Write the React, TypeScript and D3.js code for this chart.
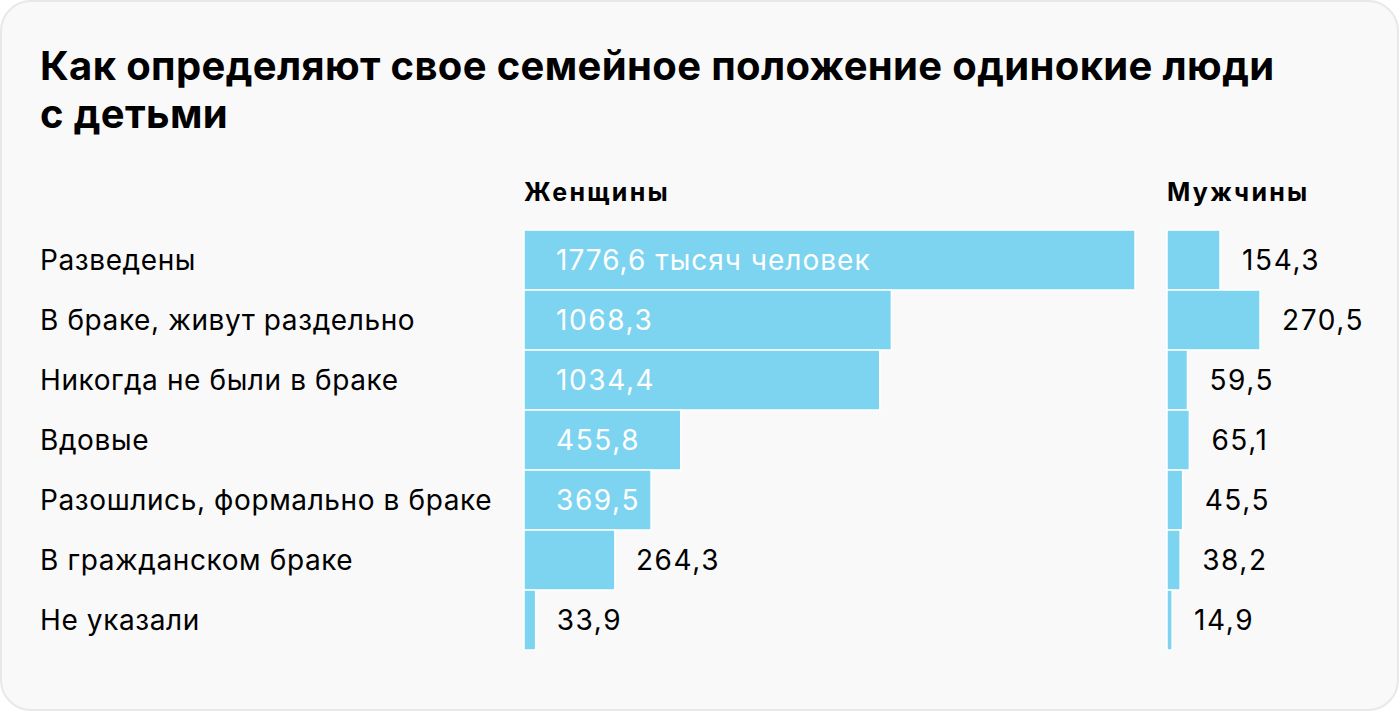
import React from "react";
import * as d3 from "d3";

const categories = [
  "Разведены",
  "В браке, живут раздельно",
  "Никогда не были в браке",
  "Вдовые",
  "Разошлись, формально в браке",
  "В гражданском браке",
  "Не указали",
];
const women = [1776.6, 1068.3, 1034.4, 455.8, 369.5, 264.3, 33.9];
const men = [154.3, 270.5, 59.5, 65.1, 45.5, 38.2, 14.9];
const titleLines = ["Как определяют свое семейное положение одинокие люди", "с детьми"];
const groupTitles = ["Женщины", "Мужчины"];
const unitSuffix = " тысяч человек";

const W = 1400;
const H = 712;
const FONT = "Inter, Roboto, 'Noto Sans', sans-serif";
const BAR = "#7dd4f0";

const fmt = (v: number) => v.toFixed(1).replace(".", ",");

export default function App() {
  const y = d3.scaleBand<number>().domain(d3.range(categories.length)).range([230, 650]).paddingInner(0);
  const wScale = d3.scaleLinear().domain([0, 1776.6]).range([524, 1135]);
  const k = (1135 - 524) / 1776.6;
  const mScale = d3.scaleLinear().domain([0, 1]).range([1167, 1167 + k]);

  return (
    <div style={{ position: "fixed", left: 0, top: 0, width: W, height: H, background: "#fff" }}>
      <svg width={W} height={H} style={{ display: "block", fontFamily: FONT }}>
        <rect x={1} y={1} width={W - 3} height={H - 3} rx={30} fill="#f9f9f9" stroke="#e8e8e8" strokeWidth={2} />
        {titleLines.map((t, i) => (
          <text key={i} x={40} y={80 + i * 48} fontSize={40} fontWeight={700} fill="#000" letterSpacing={0.35}>
            {t}
          </text>
        ))}
        <text x={524} y={201} fontSize={25} fontWeight={700} fill="#000" letterSpacing={2.3}>{groupTitles[0]}</text>
        <text x={1167} y={201} fontSize={25} fontWeight={700} fill="#000" letterSpacing={2.3}>{groupTitles[1]}</text>
        {categories.map((c, i) => {
          const y0 = y(i)!;
          const bh = y.bandwidth();
          const cy = y0 + bh / 2;
          const wEnd = wScale(women[i]);
          const inside = wEnd - 524 > 110;
          const mEnd = mScale(men[i]);
          return (
            <g key={c}>
              <text x={40} y={cy} dy="0.36em" fontSize={28} fill="#000" letterSpacing={0.6}>{c}</text>
              <rect x={524} y={y0} width={wEnd - 524} height={bh} fill={BAR} stroke="#fff" strokeWidth={1.5} />
              <text
                x={inside ? 556 : Math.max(556, wEnd + 21)}
                y={cy}
                dy="0.36em"
                fontSize={28}
                fill={inside ? "#fff" : "#000"}
                letterSpacing={i === 0 ? 1.0 : 1.6}
              >
                {fmt(women[i]) + (i === 0 ? unitSuffix : "")}
              </text>
              <rect x={1167} y={y0} width={mEnd - 1167} height={bh} fill={BAR} stroke="#fff" strokeWidth={1.5} />
              <text x={mEnd + 22} y={cy} dy="0.36em" fontSize={28} fill="#000" letterSpacing={1.6}>{fmt(men[i])}</text>
            </g>
          );
        })}
      </svg>
    </div>
  );
}
